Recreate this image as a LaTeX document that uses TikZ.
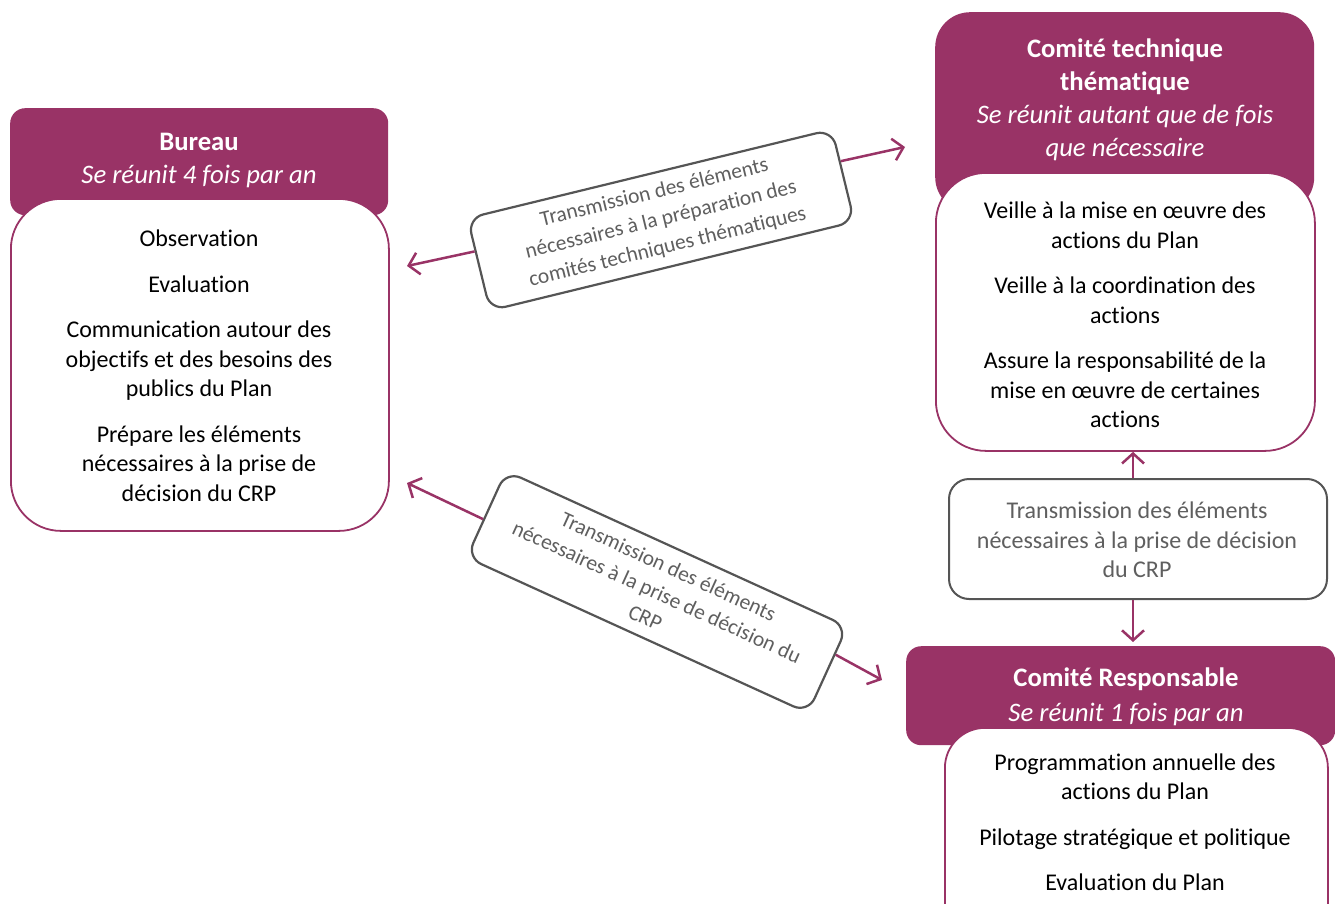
\documentclass[tikz,border=0pt]{standalone}
\usepackage{fontspec}
\setmainfont[Ligatures=NoCommon]{Carlito}
\usetikzlibrary{arrows.meta,calc}
\definecolor{plum}{HTML}{993366}
\definecolor{edgegray}{HTML}{555555}
\definecolor{txtgray}{HTML}{5F5F5F}
\begin{document}
\begin{tikzpicture}[x=1pt,y=-1pt,
  headbox/.style={fill=plum, draw=none, inner sep=0pt, anchor=north west},
  bodybox/.style={fill=white, draw=plum, line width=1.8pt, inner sep=0pt, anchor=north west},
  tbox/.style={fill=white, draw=edgegray, line width=2.2pt, rounded corners=16pt, inner sep=0pt,
    minimum width=375pt, minimum height=95pt, text=txtgray, align=center, font=\fontsize{21.5}{28}\selectfont},
  headtext/.style={text=white, align=center, font=\fontsize{26.7}{33}\selectfont},
  bodytext/.style={text=black, align=center, font=\fontsize{24}{29.5}\selectfont},
  conn/.style={draw=plum, line width=2.5pt, -{Straight Barb[length=10pt,width=22pt]}},
]
\path[use as bounding box, clip] (0,0) rectangle (1335,904);

% Bureau
\node[headbox, rounded corners=15pt, minimum width=378pt, minimum height=107pt] (bh) at (10,108) {};
\node[bodybox, rounded corners=50pt, minimum width=378pt, minimum height=332pt] (bb) at (10,198) {};

% Comite technique thematique
\node[headbox, rounded corners=35pt, minimum width=379pt, minimum height=200pt] (ch) at (935,12) {};
\node[bodybox, rounded corners=50pt, minimum width=379pt, minimum height=278pt] (cb) at (935,172) {};

% middle transmission box
\node[fill=white, draw=edgegray, line width=2pt, rounded corners=20pt, minimum width=378pt,
  minimum height=120pt, anchor=north west, inner sep=0pt] (mb) at (948,478) {};
\node[text=txtgray, align=center, font=\fontsize{24}{29.5}\selectfont] (mbt) at (1137,540)
  {Transmission des éléments\\nécessaires à la prise de décision\\du CRP};

% Comite responsable
\node[headbox, rounded corners=15pt, minimum width=429pt, minimum height=99pt] (rh) at (906,646) {};
\node[bodybox, rounded corners=40pt, minimum width=383pt, minimum height=240pt] (rb) at (944,727) {};

% rotated boxes
\node[tbox, rotate=13.7] (t1) at (661,220)
  {Transmission des éléments\\nécessaires à la préparation des\\comités techniques thématiques};
\node[tbox, rotate=-24.5] (t2) at (657,592)
  {Transmission des éléments\\nécessaires à la prise de décision du\\CRP};

% arrows
\coordinate (a1l) at (407,266);
\coordinate (a1r) at (905,147);
\coordinate (a2l) at (407,483);
\coordinate (a2r) at (882,680);
\draw[conn] ($(t1.west)!0.28!(t1.north west)$) -- (a1l);
\draw[conn] ($(t1.east)!0.3!(t1.north east)$) -- (a1r);
\draw[conn] ($(t2.west)!0.12!(t2.south west)$) -- (a2l);
\draw[conn] ($(t2.east)!0.35!(t2.north east)$) -- (a2r);
\draw[conn] ($(mb.north)+(-5,0)$) -- ($(mb.north |- cb.south)+(-5,0)$);
\draw[conn] ($(mb.south)+(-5,0)$) -- ($(mb.south |- rh.north)+(-5,-4)$);

% texts
\node[headtext] (bht) at (199,160) {\textbf{Bureau}\\\textit{Se réunit 4 fois par an}};
\node[headtext] (cht) at (1125,100) {\textbf{Comité technique}\\\textbf{thématique}\\\textit{Se réunit autant que de fois}\\\textit{que nécessaire}};
\node[headtext] (rht) at (1126,697) {\textbf{Comité Responsable}\\[2pt]\textit{Se réunit 1 fois par an}};
\node[bodytext] (bbt) at (199,366) {Observation\\[16pt]Evaluation\\[16pt]Communication autour des\\objectifs et des besoins des\\publics du Plan\\[16pt]Prépare les éléments\\nécessaires à la prise de\\décision du CRP};
\node[bodytext] (cbt) at (1125,315) {Veille à la mise en œuvre des\\actions du Plan\\[16pt]Veille à la coordination des\\actions\\[16pt]Assure la responsabilité de la\\mise en œuvre de certaines\\actions};
\node[bodytext] (rbt) at (1135,822) {Programmation annuelle des\\actions du Plan\\[16pt]Pilotage stratégique et politique\\[16pt]Evaluation du Plan};
\end{tikzpicture}
\end{document}
